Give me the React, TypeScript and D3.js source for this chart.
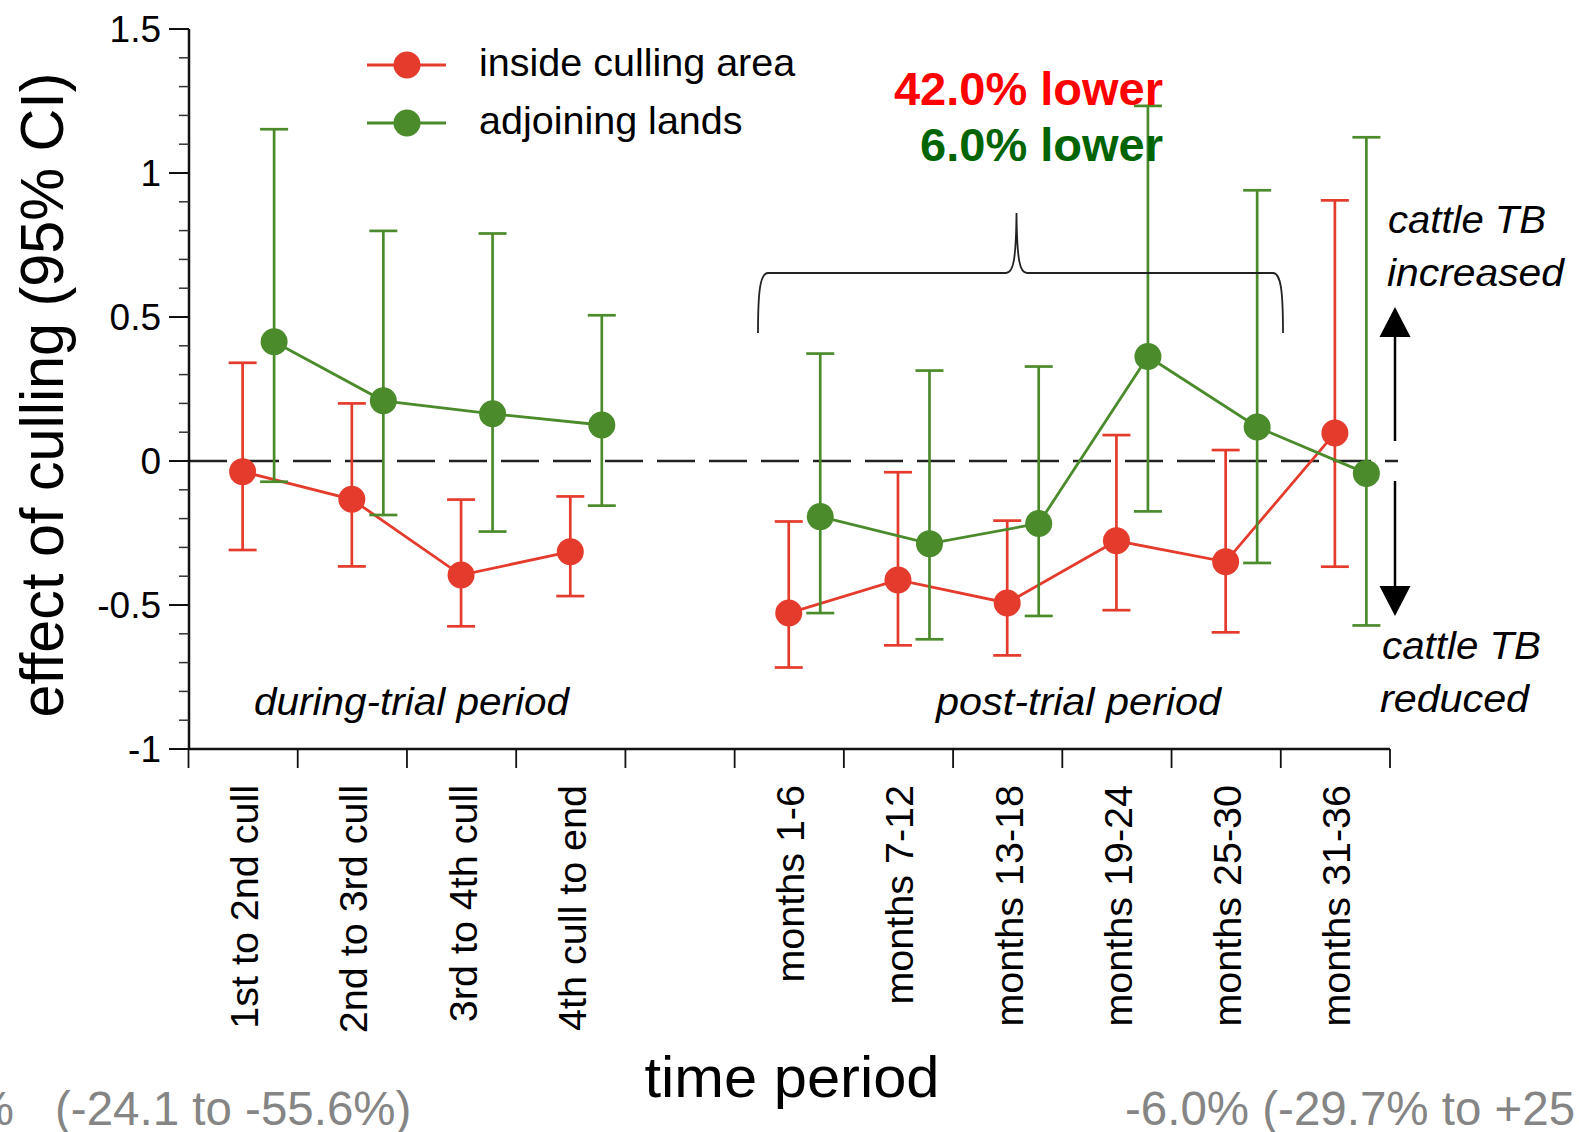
import React from "react";
import * as d3 from "d3";

const categories = [
  "1st to 2nd cull",
  "2nd to 3rd cull",
  "3rd to 4th cull",
  "4th cull to end",
  "",
  "months 1-6",
  "months 7-12",
  "months 13-18",
  "months 19-24",
  "months 25-30",
  "months 31-36",
];

// inside culling area (red)
const insideMean = [-0.037, -0.133, -0.396, -0.315, null, -0.528, -0.413, -0.493, -0.277, -0.35, 0.097];
const insideHigh = [0.341, 0.2, -0.134, -0.123, null, -0.21, -0.039, -0.207, 0.09, 0.038, 0.905];
const insideLow = [-0.309, -0.366, -0.574, -0.469, null, -0.717, -0.64, -0.675, -0.518, -0.595, -0.367];

// adjoining lands (green)
const adjMean = [0.414, 0.209, 0.164, 0.125, null, -0.193, -0.287, -0.217, 0.363, 0.118, -0.043];
const adjHigh = [1.152, 0.799, 0.79, 0.506, null, 0.373, 0.314, 0.328, 1.233, 0.94, 1.124];
const adjLow = [-0.072, -0.1875, -0.245, -0.155, null, -0.528, -0.619, -0.538, -0.175, -0.354, -0.571];

const yMajorTicks = [-1, -0.5, 0, 0.5, 1, 1.5];
const yMajorLabels = ["-1", "-0.5", "0", "0.5", "1", "1.5"];
const yMinorTicks = [-0.9, -0.8, -0.7, -0.6, -0.4, -0.3, -0.2, -0.1, 0.1, 0.2, 0.3, 0.4, 0.6, 0.7, 0.8, 0.9, 1.1, 1.2, 1.3, 1.4];

const seriesNames = ["inside culling area", "adjoining lands"];

const RED = "#e53b2c";
const GREEN = "#4b8b2c";
const FONT = "'Liberation Sans', Arial, Helvetica, sans-serif";

export default function App() {
  const W = 1579;
  const H = 1132;
  const x = d3.scaleLinear().domain([0, 11]).range([188.5, 1390]);
  const y = d3.scaleLinear().domain([-1, 1.5]).range([749, 29]);

  const series = [
    { name: seriesNames[0], color: RED, mean: insideMean, hi: insideHigh, lo: insideLow, off: -0.5 },
    { name: seriesNames[1], color: GREEN, mean: adjMean, hi: adjHigh, lo: adjLow, off: 31 },
  ];

  const cx = (i: number, off: number) => x(i + 0.5) + off;

  const lineFor = (s: any) =>
    d3
      .line<number | null>()
      .defined((d) => d !== null)
      .x((_, i) => cx(i, s.off))
      .y((d) => y(d as number))(s.mean);

  const xTicks = d3.range(0, 12);

  return (
    <svg
      width={W}
      height={H}
      style={{ position: "absolute", left: 0, top: 0, display: "block", background: "#fff" }}
      fontFamily={FONT}
    >
      {/* zero line */}
      <line x1={189} x2={1398} y1={y(0)} y2={y(0)} stroke="#222" strokeWidth={2.5} strokeDasharray="38,14" />

      {/* y axis */}
      <line x1={189} x2={189} y1={y(1.5)} y2={y(-1)} stroke="#111" strokeWidth={2.5} />
      {yMajorTicks.map((t, i) => (
        <g key={"ym" + i}>
          <line x1={169} x2={189} y1={y(t)} y2={y(t)} stroke="#111" strokeWidth={2} />
          <text x={161} y={y(t)} dy="0.35em" textAnchor="end" fontSize={37} fill="#000">
            {yMajorLabels[i]}
          </text>
        </g>
      ))}
      {yMinorTicks.map((t, i) => (
        <line key={"yn" + i} x1={179} x2={189} y1={y(t)} y2={y(t)} stroke="#333" strokeWidth={1.5} />
      ))}
      <text
        transform={`translate(63, 395) rotate(-90)`}
        textAnchor="middle"
        fontSize={62}
        textLength={645}
        lengthAdjust="spacingAndGlyphs"
        fill="#000"
      >
        effect of culling (95% CI)
      </text>

      {/* x axis */}
      <line x1={188} x2={1390} y1={749} y2={749} stroke="#111" strokeWidth={2.5} />
      {xTicks.map((t) => (
        <line key={"xt" + t} x1={x(t)} x2={x(t)} y1={749} y2={768} stroke="#111" strokeWidth={1.8} />
      ))}
      {categories.map((c, i) =>
        c ? (
          <text
            key={"xl" + i}
            transform={`translate(${x(i + 0.5) + 15}, 785) rotate(-90)`}
            textAnchor="end"
            fontSize={39.5}
            fill="#000"
          >
            {c}
          </text>
        ) : null
      )}
      <text x={792} y={1097} textAnchor="middle" fontSize={58} textLength={295} lengthAdjust="spacingAndGlyphs" fill="#000">
        time period
      </text>

      {/* period labels */}
      <text x={254} y={715} fontSize={39} fontStyle="italic" textLength={315} lengthAdjust="spacingAndGlyphs" fill="#000">
        during-trial period
      </text>
      <text x={936} y={715} fontSize={39} fontStyle="italic" textLength={285} lengthAdjust="spacingAndGlyphs" fill="#000">
        post-trial period
      </text>

      {/* series */}
      {series.map((s, si) => (
        <g key={"s" + si}>
          {s.mean.map((m, i) =>
            m === null ? null : (
              <g key={"eb" + i} stroke={s.color} strokeWidth={2.7}>
                <line x1={cx(i, s.off)} x2={cx(i, s.off)} y1={y(s.hi[i] as number)} y2={y(s.lo[i] as number)} />
                <line x1={cx(i, s.off) - 14} x2={cx(i, s.off) + 14} y1={y(s.hi[i] as number)} y2={y(s.hi[i] as number)} />
                <line x1={cx(i, s.off) - 14} x2={cx(i, s.off) + 14} y1={y(s.lo[i] as number)} y2={y(s.lo[i] as number)} />
              </g>
            )
          )}
          <path d={lineFor(s) || ""} fill="none" stroke={s.color} strokeWidth={2.8} />
          {s.mean.map((m, i) =>
            m === null ? null : <circle key={"pt" + i} cx={cx(i, s.off)} cy={y(m)} r={13.5} fill={s.color} />
          )}
        </g>
      ))}

      {/* legend */}
      {series.map((s, i) => {
        const ly = 65 + i * 58;
        return (
          <g key={"lg" + i}>
            <line x1={367} x2={446} y1={ly} y2={ly} stroke={s.color} strokeWidth={2.8} />
            <circle cx={407} cy={ly} r={13.5} fill={s.color} />
            <text x={479} y={ly + 11} fontSize={39.5} fill="#000">
              {s.name}
            </text>
          </g>
        );
      })}

      {/* bracket and annotations */}
      <path
        d="M 758 333 C 758 292 760 273 768 273 L 1006 273 C 1013 273 1016 262 1016.5 213 C 1017 262 1020 273 1027 273 L 1273 273 C 1281 273 1283 292 1283 333"
        fill="none"
        stroke="#222"
        strokeWidth={1.8}
      />
      <text x={1163} y={105} textAnchor="end" fontSize={47} fontWeight="bold" fill="#ff0000">
        42.0% lower
      </text>
      <text x={1163} y={161} textAnchor="end" fontSize={47} fontWeight="bold" fill="#006400">
        6.0% lower
      </text>

      {/* arrows */}
      <line x1={1395} x2={1395} y1={441} y2={335} stroke="#000" strokeWidth={2.5} />
      <polygon points="1395,307 1379.5,337 1410.5,337" fill="#000" />
      <line x1={1395} x2={1395} y1={481} y2={588} stroke="#000" strokeWidth={2.5} />
      <polygon points="1395,616 1379.5,586 1410.5,586" fill="#000" />
      <text x={1388} y={233} fontSize={39} fontStyle="italic" textLength={158} lengthAdjust="spacingAndGlyphs" fill="#000">
        cattle TB
      </text>
      <text x={1387} y={286} fontSize={39} fontStyle="italic" textLength={177} lengthAdjust="spacingAndGlyphs" fill="#000">
        increased
      </text>
      <text x={1382} y={659} fontSize={39} fontStyle="italic" textLength={159} lengthAdjust="spacingAndGlyphs" fill="#000">
        cattle TB
      </text>
      <text x={1380} y={712} fontSize={39} fontStyle="italic" textLength={149} lengthAdjust="spacingAndGlyphs" fill="#000">
        reduced
      </text>

      {/* bottom gray texts */}
      <text x={14} y={1125} textAnchor="end" fontSize={47.5} fill="#858585">
        -42.0%
      </text>
      <text x={55} y={1125} fontSize={47.5} fill="#858585">
        (-24.1 to -55.6%)
      </text>
      <text x={1125} y={1125} fontSize={47.5} fill="#858585">
        -6.0% (-29.7% to +25.6%)
      </text>
    </svg>
  );
}
